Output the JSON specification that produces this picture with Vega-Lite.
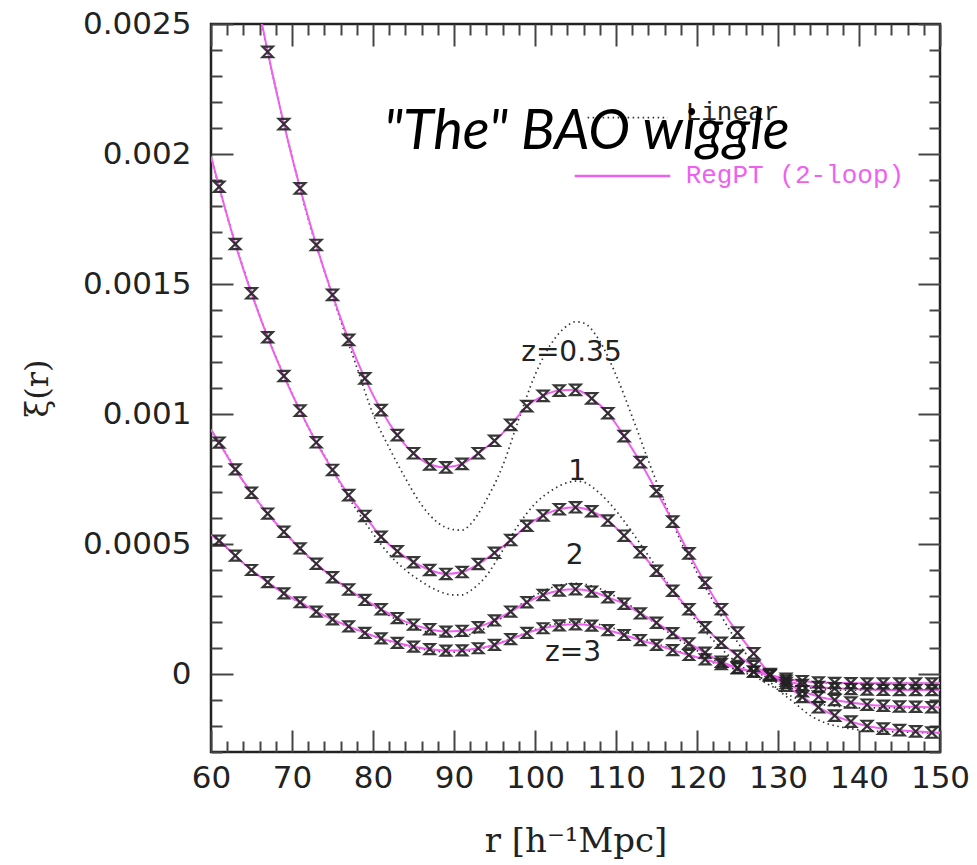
{
  "$schema": "https://vega.github.io/schema/vega-lite/v6.json",
  "width": 729,
  "height": 728,
  "autosize": {"type": "none"},
  "padding": {"left": 211, "top": 24, "right": 37, "bottom": 113},
  "background": "white",
  "config": {"view": {"stroke": "#222", "strokeWidth": 2.5}},
  "datasets": {
    "regpt": [
      {"z":"0.35","r":63,"xi":0.00302},{"z":"0.35","r":65,"xi":0.0027},{"z":"0.35","r":67,"xi":0.002393},{"z":"0.35","r":69,"xi":0.002115},{"z":"0.35","r":71,"xi":0.001868},{"z":"0.35","r":73,"xi":0.00165},{"z":"0.35","r":75,"xi":0.001458},{"z":"0.35","r":77,"xi":0.001285},{"z":"0.35","r":79,"xi":0.001137},{"z":"0.35","r":81,"xi":0.001015},{"z":"0.35","r":83,"xi":0.000919},{"z":"0.35","r":85,"xi":0.000849},{"z":"0.35","r":87,"xi":0.000806},{"z":"0.35","r":89,"xi":0.000795},{"z":"0.35","r":91,"xi":0.000808},{"z":"0.35","r":93,"xi":0.000849},{"z":"0.35","r":95,"xi":0.000897},{"z":"0.35","r":97,"xi":0.000958},{"z":"0.35","r":99,"xi":0.00103},{"z":"0.35","r":101,"xi":0.00107},{"z":"0.35","r":103,"xi":0.00109},{"z":"0.35","r":105,"xi":0.001093},{"z":"0.35","r":107,"xi":0.00106},{"z":"0.35","r":109,"xi":0.001003},{"z":"0.35","r":111,"xi":0.000915},{"z":"0.35","r":113,"xi":0.000815},{"z":"0.35","r":115,"xi":0.000703},{"z":"0.35","r":117,"xi":0.000586},{"z":"0.35","r":119,"xi":0.000464},{"z":"0.35","r":121,"xi":0.000351},{"z":"0.35","r":123,"xi":0.000249},{"z":"0.35","r":125,"xi":0.000159},{"z":"0.35","r":127,"xi":0.000079},{"z":"0.35","r":129,"xi":0.0},{"z":"0.35","r":131,"xi":-0.000045},{"z":"0.35","r":133,"xi":-0.000088},{"z":"0.35","r":135,"xi":-0.000128},{"z":"0.35","r":137,"xi":-0.00016},{"z":"0.35","r":139,"xi":-0.000183},{"z":"0.35","r":141,"xi":-0.0002},{"z":"0.35","r":143,"xi":-0.00021},{"z":"0.35","r":145,"xi":-0.000216},{"z":"0.35","r":147,"xi":-0.000221},{"z":"0.35","r":149,"xi":-0.000225},{"z":"0.35","r":150,"xi":-0.000226},
      {"z":"1","r":60,"xi":0.00199},{"z":"1","r":61,"xi":0.001874},{"z":"1","r":63,"xi":0.001654},{"z":"1","r":65,"xi":0.001464},{"z":"1","r":67,"xi":0.001295},{"z":"1","r":69,"xi":0.001146},{"z":"1","r":71,"xi":0.001013},{"z":"1","r":73,"xi":0.000891},{"z":"1","r":75,"xi":0.000785},{"z":"1","r":77,"xi":0.000688},{"z":"1","r":79,"xi":0.000608},{"z":"1","r":81,"xi":0.000528},{"z":"1","r":83,"xi":0.000472},{"z":"1","r":85,"xi":0.00043},{"z":"1","r":87,"xi":0.0004},{"z":"1","r":89,"xi":0.000385},{"z":"1","r":91,"xi":0.000392},{"z":"1","r":93,"xi":0.000423},{"z":"1","r":95,"xi":0.000466},{"z":"1","r":97,"xi":0.000515},{"z":"1","r":99,"xi":0.00057},{"z":"1","r":101,"xi":0.00061},{"z":"1","r":103,"xi":0.000634},{"z":"1","r":105,"xi":0.000641},{"z":"1","r":107,"xi":0.000626},{"z":"1","r":109,"xi":0.00059},{"z":"1","r":111,"xi":0.000532},{"z":"1","r":113,"xi":0.000468},{"z":"1","r":115,"xi":0.000397},{"z":"1","r":117,"xi":0.00032},{"z":"1","r":119,"xi":0.000249},{"z":"1","r":121,"xi":0.00018},{"z":"1","r":123,"xi":0.00012},{"z":"1","r":125,"xi":0.00007},{"z":"1","r":127,"xi":0.000031},{"z":"1","r":129,"xi":-0.000004},{"z":"1","r":131,"xi":-0.000035},{"z":"1","r":133,"xi":-0.000066},{"z":"1","r":135,"xi":-0.000087},{"z":"1","r":137,"xi":-0.0001},{"z":"1","r":139,"xi":-0.00011},{"z":"1","r":141,"xi":-0.000118},{"z":"1","r":143,"xi":-0.000122},{"z":"1","r":145,"xi":-0.000125},{"z":"1","r":147,"xi":-0.000126},{"z":"1","r":149,"xi":-0.000128},{"z":"1","r":150,"xi":-0.000128},
      {"z":"2","r":60,"xi":0.00094},{"z":"2","r":61,"xi":0.00089},{"z":"2","r":63,"xi":0.000787},{"z":"2","r":65,"xi":0.000697},{"z":"2","r":67,"xi":0.000617},{"z":"2","r":69,"xi":0.000547},{"z":"2","r":71,"xi":0.000483},{"z":"2","r":73,"xi":0.000424},{"z":"2","r":75,"xi":0.000372},{"z":"2","r":77,"xi":0.000325},{"z":"2","r":79,"xi":0.000285},{"z":"2","r":81,"xi":0.000249},{"z":"2","r":83,"xi":0.000215},{"z":"2","r":85,"xi":0.00019},{"z":"2","r":87,"xi":0.000172},{"z":"2","r":89,"xi":0.000163},{"z":"2","r":91,"xi":0.000166},{"z":"2","r":93,"xi":0.00018},{"z":"2","r":95,"xi":0.000206},{"z":"2","r":97,"xi":0.00024},{"z":"2","r":99,"xi":0.000276},{"z":"2","r":101,"xi":0.000304},{"z":"2","r":103,"xi":0.000321},{"z":"2","r":105,"xi":0.000326},{"z":"2","r":107,"xi":0.000317},{"z":"2","r":109,"xi":0.000295},{"z":"2","r":111,"xi":0.00027},{"z":"2","r":113,"xi":0.000233},{"z":"2","r":115,"xi":0.000197},{"z":"2","r":117,"xi":0.000157},{"z":"2","r":119,"xi":0.000118},{"z":"2","r":121,"xi":0.000082},{"z":"2","r":123,"xi":0.000047},{"z":"2","r":125,"xi":0.000024},{"z":"2","r":127,"xi":0.000009},{"z":"2","r":129,"xi":-0.000006},{"z":"2","r":131,"xi":-0.000026},{"z":"2","r":133,"xi":-0.000042},{"z":"2","r":135,"xi":-0.00005},{"z":"2","r":137,"xi":-0.000055},{"z":"2","r":139,"xi":-0.000058},{"z":"2","r":141,"xi":-0.00006},{"z":"2","r":143,"xi":-0.000061},{"z":"2","r":145,"xi":-0.000062},{"z":"2","r":147,"xi":-0.000062},{"z":"2","r":149,"xi":-0.000062},{"z":"2","r":150,"xi":-0.000062},
      {"z":"3","r":60,"xi":0.000535},{"z":"3","r":61,"xi":0.000513},{"z":"3","r":63,"xi":0.000455},{"z":"3","r":65,"xi":0.0004},{"z":"3","r":67,"xi":0.000353},{"z":"3","r":69,"xi":0.00031},{"z":"3","r":71,"xi":0.000276},{"z":"3","r":73,"xi":0.00024},{"z":"3","r":75,"xi":0.00021},{"z":"3","r":77,"xi":0.000183},{"z":"3","r":79,"xi":0.000158},{"z":"3","r":81,"xi":0.000137},{"z":"3","r":83,"xi":0.00012},{"z":"3","r":85,"xi":0.000105},{"z":"3","r":87,"xi":0.000096},{"z":"3","r":89,"xi":0.00009},{"z":"3","r":91,"xi":0.000091},{"z":"3","r":93,"xi":0.000099},{"z":"3","r":95,"xi":0.000112},{"z":"3","r":97,"xi":0.000134},{"z":"3","r":99,"xi":0.000158},{"z":"3","r":101,"xi":0.000176},{"z":"3","r":103,"xi":0.000187},{"z":"3","r":105,"xi":0.000191},{"z":"3","r":107,"xi":0.000186},{"z":"3","r":109,"xi":0.000169},{"z":"3","r":111,"xi":0.00015},{"z":"3","r":113,"xi":0.00013},{"z":"3","r":115,"xi":0.000112},{"z":"3","r":117,"xi":0.000092},{"z":"3","r":119,"xi":0.000073},{"z":"3","r":121,"xi":0.000056},{"z":"3","r":123,"xi":0.000038},{"z":"3","r":125,"xi":0.000022},{"z":"3","r":127,"xi":0.000009},{"z":"3","r":129,"xi":-0.000004},{"z":"3","r":131,"xi":-0.000018},{"z":"3","r":133,"xi":-0.000027},{"z":"3","r":135,"xi":-0.000032},{"z":"3","r":137,"xi":-0.000034},{"z":"3","r":139,"xi":-0.000035},{"z":"3","r":141,"xi":-0.000036},{"z":"3","r":143,"xi":-0.000036},{"z":"3","r":145,"xi":-0.000036},{"z":"3","r":147,"xi":-0.000036},{"z":"3","r":149,"xi":-0.000036},{"z":"3","r":150,"xi":-0.000036}
    ],
    "linear": [
      {"z":"0.35","r":64,"xi":0.00286},{"z":"0.35","r":66,"xi":0.00254},{"z":"0.35","r":68,"xi":0.00225},{"z":"0.35","r":70,"xi":0.00199},{"z":"0.35","r":72,"xi":0.00175},{"z":"0.35","r":74,"xi":0.00155},{"z":"0.35","r":76,"xi":0.00136},{"z":"0.35","r":78,"xi":0.00118},{"z":"0.35","r":80,"xi":0.001},{"z":"0.35","r":82,"xi":0.00087},{"z":"0.35","r":84,"xi":0.000753},{"z":"0.35","r":86,"xi":0.00065},{"z":"0.35","r":88,"xi":0.000582},{"z":"0.35","r":90,"xi":0.000555},{"z":"0.35","r":91,"xi":0.000553},{"z":"0.35","r":92,"xi":0.000575},{"z":"0.35","r":94,"xi":0.00067},{"z":"0.35","r":96,"xi":0.0008},{"z":"0.35","r":98,"xi":0.00098},{"z":"0.35","r":100,"xi":0.00115},{"z":"0.35","r":102,"xi":0.00127},{"z":"0.35","r":104,"xi":0.00134},{"z":"0.35","r":105,"xi":0.001355},{"z":"0.35","r":106,"xi":0.00135},{"z":"0.35","r":108,"xi":0.00128},{"z":"0.35","r":110,"xi":0.00115},{"z":"0.35","r":112,"xi":0.00099},{"z":"0.35","r":114,"xi":0.00082},{"z":"0.35","r":116,"xi":0.00066},{"z":"0.35","r":118,"xi":0.00051},{"z":"0.35","r":120,"xi":0.00039},{"z":"0.35","r":122,"xi":0.00028},{"z":"0.35","r":124,"xi":0.00017},{"z":"0.35","r":126,"xi":0.00008},{"z":"0.35","r":128,"xi":0.000005},{"z":"0.35","r":130,"xi":-0.00006},{"z":"0.35","r":132,"xi":-0.00011},{"z":"0.35","r":134,"xi":-0.00016},{"z":"0.35","r":136,"xi":-0.00019},{"z":"0.35","r":138,"xi":-0.000205},{"z":"0.35","r":140,"xi":-0.000215},{"z":"0.35","r":142,"xi":-0.00022},{"z":"0.35","r":144,"xi":-0.000222},{"z":"0.35","r":146,"xi":-0.000224},{"z":"0.35","r":148,"xi":-0.000226},{"z":"0.35","r":150,"xi":-0.000227},
      {"z":"1","r":60,"xi":0.00199},{"z":"1","r":62,"xi":0.00176},{"z":"1","r":64,"xi":0.00156},{"z":"1","r":66,"xi":0.00138},{"z":"1","r":68,"xi":0.00122},{"z":"1","r":70,"xi":0.00108},{"z":"1","r":72,"xi":0.00095},{"z":"1","r":74,"xi":0.00084},{"z":"1","r":76,"xi":0.00073},{"z":"1","r":78,"xi":0.00063},{"z":"1","r":80,"xi":0.00054},{"z":"1","r":82,"xi":0.00046},{"z":"1","r":84,"xi":0.0004},{"z":"1","r":86,"xi":0.000355},{"z":"1","r":88,"xi":0.00032},{"z":"1","r":90,"xi":0.000304},{"z":"1","r":91,"xi":0.000304},{"z":"1","r":92,"xi":0.00032},{"z":"1","r":94,"xi":0.000378},{"z":"1","r":96,"xi":0.000475},{"z":"1","r":98,"xi":0.000575},{"z":"1","r":100,"xi":0.000655},{"z":"1","r":102,"xi":0.000705},{"z":"1","r":104,"xi":0.000736},{"z":"1","r":105,"xi":0.000742},{"z":"1","r":106,"xi":0.000738},{"z":"1","r":108,"xi":0.000695},{"z":"1","r":110,"xi":0.000628},{"z":"1","r":112,"xi":0.000545},{"z":"1","r":114,"xi":0.000455},{"z":"1","r":116,"xi":0.000365},{"z":"1","r":118,"xi":0.00028},{"z":"1","r":120,"xi":0.0002},{"z":"1","r":122,"xi":0.00013},{"z":"1","r":124,"xi":0.000068},{"z":"1","r":126,"xi":0.000018},{"z":"1","r":128,"xi":-0.000025},{"z":"1","r":130,"xi":-0.00006},{"z":"1","r":132,"xi":-0.00009},{"z":"1","r":134,"xi":-0.00011},{"z":"1","r":136,"xi":-0.00012},{"z":"1","r":138,"xi":-0.000126},{"z":"1","r":140,"xi":-0.00013},{"z":"1","r":145,"xi":-0.00013},{"z":"1","r":150,"xi":-0.00013},
      {"z":"2","r":60,"xi":0.00094},{"z":"2","r":62,"xi":0.00084},{"z":"2","r":64,"xi":0.00074},{"z":"2","r":66,"xi":0.000655},{"z":"2","r":68,"xi":0.00058},{"z":"2","r":70,"xi":0.000513},{"z":"2","r":72,"xi":0.00045},{"z":"2","r":74,"xi":0.000395},{"z":"2","r":76,"xi":0.000345},{"z":"2","r":78,"xi":0.000302},{"z":"2","r":80,"xi":0.000262},{"z":"2","r":82,"xi":0.000225},{"z":"2","r":84,"xi":0.000193},{"z":"2","r":86,"xi":0.000168},{"z":"2","r":88,"xi":0.000151},{"z":"2","r":90,"xi":0.000144},{"z":"2","r":92,"xi":0.000152},{"z":"2","r":94,"xi":0.000178},{"z":"2","r":96,"xi":0.000218},{"z":"2","r":98,"xi":0.000262},{"z":"2","r":100,"xi":0.000302},{"z":"2","r":102,"xi":0.000332},{"z":"2","r":104,"xi":0.000347},{"z":"2","r":105,"xi":0.000349},{"z":"2","r":106,"xi":0.000346},{"z":"2","r":108,"xi":0.000328},{"z":"2","r":110,"xi":0.000297},{"z":"2","r":112,"xi":0.000258},{"z":"2","r":114,"xi":0.000214},{"z":"2","r":116,"xi":0.00017},{"z":"2","r":118,"xi":0.000128},{"z":"2","r":120,"xi":0.00009},{"z":"2","r":122,"xi":0.000055},{"z":"2","r":124,"xi":0.000026},{"z":"2","r":126,"xi":0.000003},{"z":"2","r":128,"xi":-0.000016},{"z":"2","r":130,"xi":-0.000033},{"z":"2","r":132,"xi":-0.000045},{"z":"2","r":134,"xi":-0.000053},{"z":"2","r":136,"xi":-0.000058},{"z":"2","r":138,"xi":-0.000062},{"z":"2","r":144,"xi":-0.000062},{"z":"2","r":150,"xi":-0.000062},
      {"z":"3","r":60,"xi":0.000535},{"z":"3","r":62,"xi":0.000483},{"z":"3","r":64,"xi":0.000426},{"z":"3","r":66,"xi":0.000376},{"z":"3","r":68,"xi":0.000331},{"z":"3","r":70,"xi":0.000292},{"z":"3","r":72,"xi":0.000257},{"z":"3","r":74,"xi":0.000224},{"z":"3","r":76,"xi":0.000195},{"z":"3","r":78,"xi":0.000169},{"z":"3","r":80,"xi":0.000146},{"z":"3","r":82,"xi":0.000126},{"z":"3","r":84,"xi":0.000109},{"z":"3","r":86,"xi":0.000096},{"z":"3","r":88,"xi":0.000087},{"z":"3","r":90,"xi":0.000084},{"z":"3","r":92,"xi":0.000089},{"z":"3","r":94,"xi":0.000103},{"z":"3","r":96,"xi":0.000124},{"z":"3","r":98,"xi":0.000148},{"z":"3","r":100,"xi":0.000171},{"z":"3","r":102,"xi":0.000189},{"z":"3","r":104,"xi":0.000199},{"z":"3","r":105,"xi":0.0002},{"z":"3","r":106,"xi":0.000199},{"z":"3","r":108,"xi":0.00019},{"z":"3","r":110,"xi":0.000173},{"z":"3","r":112,"xi":0.000152},{"z":"3","r":114,"xi":0.000129},{"z":"3","r":116,"xi":0.000106},{"z":"3","r":118,"xi":0.000084},{"z":"3","r":120,"xi":0.000063},{"z":"3","r":122,"xi":0.000044},{"z":"3","r":124,"xi":0.000026},{"z":"3","r":126,"xi":0.000011},{"z":"3","r":128,"xi":-0.000003},{"z":"3","r":130,"xi":-0.000015},{"z":"3","r":132,"xi":-0.000025},{"z":"3","r":134,"xi":-0.000031},{"z":"3","r":136,"xi":-0.000034},{"z":"3","r":138,"xi":-0.000036},{"z":"3","r":144,"xi":-0.000036},{"z":"3","r":150,"xi":-0.000036}
    ],
    "legendLines": [
      {"kind":"Linear","r":106.5,"r2":116.4,"xi":0.00214},
      {"kind":"RegPT","r":104.9,"r2":116.7,"xi":0.001915}
    ],
    "legendText": [
      {"kind":"Linear","label":"Linear","r":118.6,"xi":0.00213},
      {"kind":"RegPT","label":"RegPT (2-loop)","r":118.6,"xi":0.00189}
    ],
    "curveLabels": [
      {"label":"z=0.35","r":104.5,"xi":0.001235},
      {"label":"1","r":105.2,"xi":0.000777},
      {"label":"2","r":104.9,"xi":0.000454},
      {"label":"z=3","r":104.7,"xi":0.000081}
    ],
    "titleText": [
      {"label":"\"The\" BAO wiggle","r":81.3,"xi":0.00202}
    ]
  },
  "resolve": {"axis": {"x": "independent", "y": "independent"}},
  "layer": [
    {
      "data": {"name": "linear"},
      "mark": {"type": "line", "interpolate": "monotone", "clip": true, "color": "#333", "strokeWidth": 1.7, "strokeDash": [1.5, 3.5]},
      "encoding": {
        "x": {"field": "r", "type": "quantitative", "scale": {"domain": [60, 150], "nice": false, "zero": false},
          "axis": {"orient": "bottom", "values": [60,62,64,66,68,70,72,74,76,78,80,82,84,86,88,90,92,94,96,98,100,102,104,106,108,110,112,114,116,118,120,122,124,126,128,130,132,134,136,138,140,142,144,146,148,150],
            "domain": false, "grid": false, "tickColor": "#444", "tickWidth": 2,
            "tickSize": {"condition": {"test": "datum.value % 10 === 0", "value": -22}, "value": -11},
            "labelExpr": "datum.value % 10 === 0 ? format(datum.value, 'd') : ''",
            "labelOverlap": false, "labelFlush": false, "labelFont": "DejaVu Sans", "labelFontSize": 31, "labelColor": "#222", "labelPadding": 33,
            "title": "r [h⁻¹Mpc]", "titleFont": "DejaVu Serif", "titleFontSize": 34, "titleFontWeight": "normal", "titleColor": "#222", "titlePadding": 20}},
        "y": {"field": "xi", "type": "quantitative", "scale": {"domain": [-0.0003, 0.0025], "nice": false, "zero": false},
          "axis": {"orient": "left", "values": [-0.0003,-0.0002,-0.0001,0,0.0001,0.0002,0.0003,0.0004,0.0005,0.0006,0.0007,0.0008,0.0009,0.001,0.0011,0.0012,0.0013,0.0014,0.0015,0.0016,0.0017,0.0018,0.0019,0.002,0.0021,0.0022,0.0023,0.0024,0.0025],
            "domain": false, "grid": false, "tickColor": "#444", "tickWidth": 2,
            "tickSize": {"condition": {"test": "round(datum.value*10000) % 5 === 0", "value": -22}, "value": -11},
            "labelExpr": "round(datum.value*10000) % 5 === 0 ? format(datum.value, '~g') : ''",
            "labelOverlap": false, "labelFlush": false, "labelFont": "DejaVu Sans", "labelFontSize": 31, "labelColor": "#222", "labelPadding": 42,
            "title": "ξ(r)", "titleFont": "DejaVu Serif", "titleFontSize": 32, "titleFontWeight": "normal", "titleColor": "#222", "titlePadding": 28}},
        "detail": {"field": "z"}
      }
    },
    {
      "data": {"name": "regpt"},
      "mark": {"type": "line", "interpolate": "monotone", "clip": true, "color": "#f060f0", "strokeWidth": 2},
      "encoding": {
        "x": {"field": "r", "type": "quantitative",
          "axis": {"orient": "top", "values": [60,62,64,66,68,70,72,74,76,78,80,82,84,86,88,90,92,94,96,98,100,102,104,106,108,110,112,114,116,118,120,122,124,126,128,130,132,134,136,138,140,142,144,146,148,150],
            "domain": false, "grid": false, "labels": false, "title": null, "tickColor": "#444", "tickWidth": 2,
            "tickSize": {"condition": {"test": "datum.value % 10 === 0", "value": -22}, "value": -11}}},
        "y": {"field": "xi", "type": "quantitative",
          "axis": {"orient": "right", "values": [-0.0003,-0.0002,-0.0001,0,0.0001,0.0002,0.0003,0.0004,0.0005,0.0006,0.0007,0.0008,0.0009,0.001,0.0011,0.0012,0.0013,0.0014,0.0015,0.0016,0.0017,0.0018,0.0019,0.002,0.0021,0.0022,0.0023,0.0024,0.0025],
            "domain": false, "grid": false, "labels": false, "title": null, "tickColor": "#444", "tickWidth": 2,
            "tickSize": {"condition": {"test": "round(datum.value*10000) % 5 === 0", "value": -22}, "value": -11}}},
        "detail": {"field": "z"}
      }
    },
    {
      "data": {"name": "regpt"},
      "transform": [{"filter": "datum.r % 2 === 1"}],
      "mark": {"type": "point", "shape": "M-1,-1H1L-1,1H1Z", "filled": false, "clip": true, "color": "#222", "strokeWidth": 2.2, "opacity": 0.9},
      "encoding": {
        "x": {"field": "r", "type": "quantitative", "axis": null},
        "y": {"field": "xi", "type": "quantitative", "axis": null},
        "size": {"field": "z", "type": "nominal", "scale": {"domain": ["0.35","1","2","3"], "range": [110, 100, 70, 60]}, "legend": null}
      }
    },
    {
      "data": {"name": "legendLines"},
      "transform": [{"filter": "datum.kind === 'Linear'"}],
      "mark": {"type": "rule", "color": "#333", "strokeWidth": 1.7, "strokeDash": [1.5, 3.5]},
      "encoding": {
        "x": {"field": "r", "type": "quantitative", "axis": null},
        "x2": {"field": "r2"},
        "y": {"field": "xi", "type": "quantitative", "axis": null}
      }
    },
    {
      "data": {"name": "legendLines"},
      "transform": [{"filter": "datum.kind === 'RegPT'"}],
      "mark": {"type": "rule", "color": "#f060f0", "strokeWidth": 2.5},
      "encoding": {
        "x": {"field": "r", "type": "quantitative", "axis": null},
        "x2": {"field": "r2"},
        "y": {"field": "xi", "type": "quantitative", "axis": null}
      }
    },
    {
      "data": {"name": "legendText"},
      "mark": {"type": "text", "align": "left", "baseline": "alphabetic", "font": "Liberation Mono", "fontSize": 26},
      "encoding": {
        "x": {"field": "r", "type": "quantitative", "axis": null},
        "y": {"field": "xi", "type": "quantitative", "axis": null},
        "text": {"field": "label"},
        "color": {"field": "kind", "type": "nominal", "scale": {"domain": ["Linear", "RegPT"], "range": ["#222222", "#f060f0"]}, "legend": null}
      }
    },
    {
      "data": {"name": "curveLabels"},
      "mark": {"type": "text", "align": "center", "baseline": "middle", "font": "DejaVu Sans", "fontSize": 28, "color": "#222"},
      "encoding": {
        "x": {"field": "r", "type": "quantitative", "axis": null},
        "y": {"field": "xi", "type": "quantitative", "axis": null},
        "text": {"field": "label"}
      }
    },
    {
      "data": {"name": "titleText"},
      "mark": {"type": "text", "align": "left", "baseline": "alphabetic", "font": "Lato", "fontStyle": "italic", "fontSize": 56, "color": "#000"},
      "encoding": {
        "x": {"field": "r", "type": "quantitative", "axis": null},
        "y": {"field": "xi", "type": "quantitative", "axis": null},
        "text": {"field": "label"}
      }
    }
  ]
}
